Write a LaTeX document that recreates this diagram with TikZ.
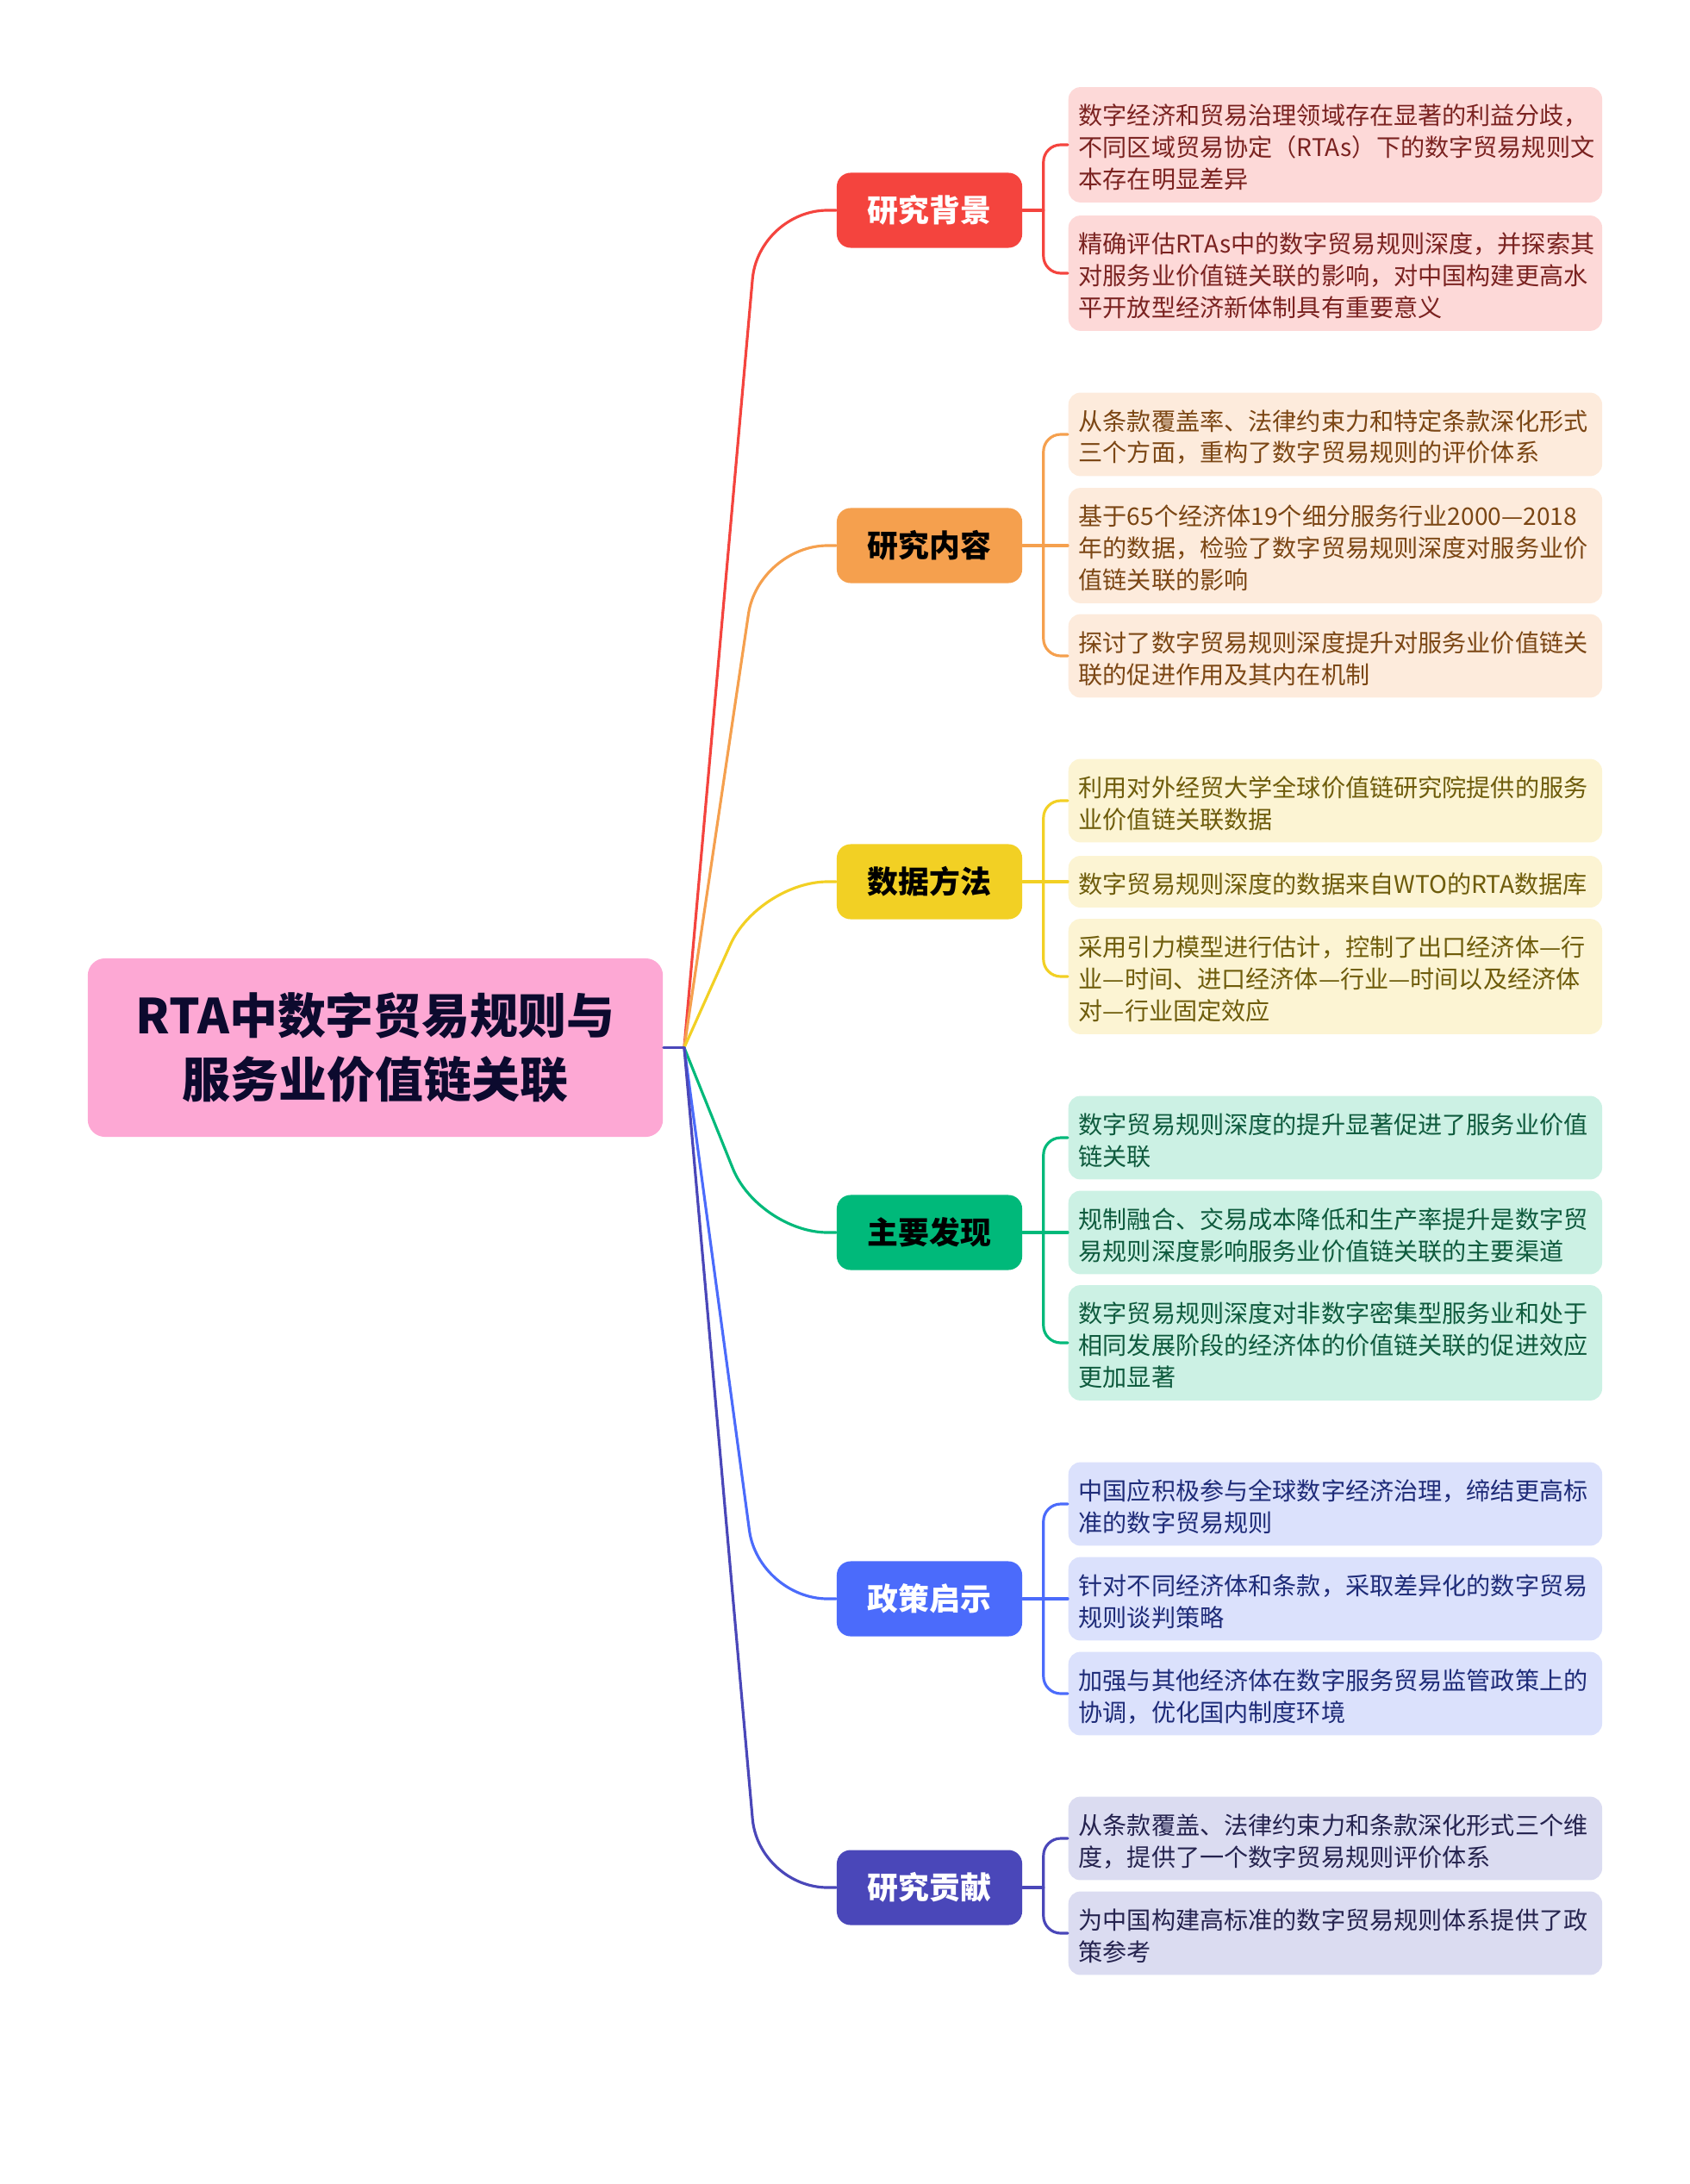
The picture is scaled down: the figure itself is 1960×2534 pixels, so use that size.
\documentclass[tikz,border=0pt]{standalone}
\usepackage{fontspec}
\setmainfont{Noto Sans CJK SC}
\usetikzlibrary{calc}

\definecolor{rootpink}{HTML}{FDA8D4}
\definecolor{roottext}{HTML}{0C0A2E}
\definecolor{redA}{HTML}{F4443E}
\definecolor{redL}{HTML}{FDD9D8}
\definecolor{redT}{HTML}{7A2220}
\definecolor{orgA}{HTML}{F5A04E}
\definecolor{orgL}{HTML}{FDEBDC}
\definecolor{orgT}{HTML}{7B4614}
\definecolor{yelA}{HTML}{F2D024}
\definecolor{yelL}{HTML}{FCF4D3}
\definecolor{yelT}{HTML}{6E5C0B}
\definecolor{grnA}{HTML}{00B97A}
\definecolor{grnL}{HTML}{CCF1E4}
\definecolor{grnT}{HTML}{0E5A3D}
\definecolor{bluA}{HTML}{4B6BFB}
\definecolor{bluL}{HTML}{DBE1FC}
\definecolor{bluT}{HTML}{1E2B78}
\definecolor{indA}{HTML}{4A47B9}
\definecolor{indL}{HTML}{DBDCF1}
\definecolor{indT}{HTML}{25234F}

\newcommand\lfstrut{\rule[-1.4pt]{0pt}{10.5pt}}

\begin{document}
\begin{tikzpicture}[x=0.01cm, y=-0.01cm, line cap=round, line join=round,
    link/.style={line width=0.9pt},
    topic/.style={fill=rootpink, text=roottext, rounded corners=0.2cm,
      minimum width=6.67cm, minimum height=2.07cm, align=center,
      font=\fontsize{15.9}{21}\selectfont\bfseries},
    branch/.style={fill=#1, rounded corners=0.16cm, minimum width=2.15cm,
      minimum height=0.87cm, font=\fontsize{10.2}{12}\selectfont\bfseries},
    leaf/.style={fill=#1, rounded corners=0.14cm, anchor=west,
      text width=5.95cm, inner xsep=0.12cm, inner ysep=0.115cm, align=left,
      font=\fontsize{8}{10.5}\selectfont,
      execute at begin node=\lfstrut, execute at end node=\lfstrut}]
  \useasboundingbox (0,0) rectangle (1960,2534);

  \node[topic] (rt) at (435.5,1215.5) {RTA中数字贸易规则与\\服务业价值链关联};
  \coordinate (jn) at ($(rt.east)+(24,0)$);

  % main topics
  \node[branch=redA, text=white] (bg) at (1078.5,244) {研究背景};
  \node[branch=orgA] (nr) at (1078.5,633) {研究内容};
  \node[branch=yelA] (ff) at (1078.5,1023) {数据方法};
  \node[branch=grnA] (fx) at (1078.5,1430) {主要发现};
  \node[branch=bluA, text=white] (zc) at (1078.5,1855) {政策启示};
  \node[branch=indA, text=white] (gx) at (1078.5,2190) {研究贡献};

  % details
  \node[leaf=redL, text=redT] (bg1) at (1239,168) {数字经济和贸易治理领域存在显著的利益分歧，\\不同区域贸易协定（RTAs）下的数字贸易规则文\\本存在明显差异};
  \node[leaf=redL, text=redT] (bg2) at (1239,317) {精确评估RTAs中的数字贸易规则深度，并探索其\\对服务业价值链关联的影响，对中国构建更高水\\平开放型经济新体制具有重要意义};

  \node[leaf=orgL, text=orgT] (nr1) at (1239,504) {从条款覆盖率、法律约束力和特定条款深化形式\\三个方面，重构了数字贸易规则的评价体系};
  \node[leaf=orgL, text=orgT] (nr2) at (1239,633) {基于65个经济体19个细分服务行业2000—2018\\年的数据，检验了数字贸易规则深度对服务业价\\值链关联的影响};
  \node[leaf=orgL, text=orgT] (nr3) at (1239,761) {探讨了数字贸易规则深度提升对服务业价值链关\\联的促进作用及其内在机制};

  \node[leaf=yelL, text=yelT] (ff1) at (1239,929) {利用对外经贸大学全球价值链研究院提供的服务\\业价值链关联数据};
  \node[leaf=yelL, text=yelT] (ff2) at (1239,1023) {数字贸易规则深度的数据来自WTO的RTA数据库};
  \node[leaf=yelL, text=yelT] (ff3) at (1239,1133) {采用引力模型进行估计，控制了出口经济体—行\\业—时间、进口经济体—行业—时间以及经济体\\对—行业固定效应};

  \node[leaf=grnL, text=grnT] (fx1) at (1239,1320) {数字贸易规则深度的提升显著促进了服务业价值\\链关联};
  \node[leaf=grnL, text=grnT] (fx2) at (1239,1430) {规制融合、交易成本降低和生产率提升是数字贸\\易规则深度影响服务业价值链关联的主要渠道};
  \node[leaf=grnL, text=grnT] (fx3) at (1239,1558) {数字贸易规则深度对非数字密集型服务业和处于\\相同发展阶段的经济体的价值链关联的促进效应\\更加显著};

  \node[leaf=bluL, text=bluT] (zc1) at (1239,1745) {中国应积极参与全球数字经济治理，缔结更高标\\准的数字贸易规则};
  \node[leaf=bluL, text=bluT] (zc2) at (1239,1855) {针对不同经济体和条款，采取差异化的数字贸易\\规则谈判策略};
  \node[leaf=bluL, text=bluT] (zc3) at (1239,1965) {加强与其他经济体在数字服务贸易监管政策上的\\协调，优化国内制度环境};

  \node[leaf=indL, text=indT] (gx1) at (1239,2133) {从条款覆盖、法律约束力和条款深化形式三个维\\度，提供了一个数字贸易规则评价体系};
  \node[leaf=indL, text=indT] (gx2) at (1239,2243) {为中国构建高标准的数字贸易规则体系提供了政\\策参考};

  % root to main topics
  \draw[link, redA, rounded corners=0.8cm] (jn) -- ($(bg.west)+(-90,0)$) -- (bg.west);
  \draw[link, orgA, rounded corners=0.8cm] (jn) -- ($(nr.west)+(-90,0)$) -- (nr.west);
  \draw[link, yelA, rounded corners=0.8cm] (jn) -- ($(ff.west)+(-90,0)$) -- (ff.west);
  \draw[link, grnA, rounded corners=0.8cm] (jn) -- ($(fx.west)+(-90,0)$) -- (fx.west);
  \draw[link, bluA, rounded corners=0.8cm] (jn) -- ($(zc.west)+(-90,0)$) -- (zc.west);
  \draw[link, indA, rounded corners=0.8cm] (jn) -- ($(gx.west)+(-90,0)$) -- (gx.west);
  \draw[link, indA] (rt.east) -- (jn);

  % brackets
  \coordinate (bgk) at ($(bg.east)+(24,0)$);
  \draw[link, redA] (bg.east) -- (bgk);
  \draw[link, redA, rounded corners=0.2cm] (bg1.west) -| (bgk) |- (bg2.west);

  \coordinate (nrk) at ($(nr.east)+(24,0)$);
  \draw[link, orgA] (nr.east) -- (nrk);
  \draw[link, orgA, rounded corners=0.2cm] (nr1.west) -| (nrk) |- (nr3.west);
  \draw[link, orgA] (nrk |- nr2.west) -- (nr2.west);

  \coordinate (ffk) at ($(ff.east)+(24,0)$);
  \draw[link, yelA] (ff.east) -- (ffk);
  \draw[link, yelA, rounded corners=0.2cm] (ff1.west) -| (ffk) |- (ff3.west);
  \draw[link, yelA] (ffk |- ff2.west) -- (ff2.west);

  \coordinate (fxk) at ($(fx.east)+(24,0)$);
  \draw[link, grnA] (fx.east) -- (fxk);
  \draw[link, grnA, rounded corners=0.2cm] (fx1.west) -| (fxk) |- (fx3.west);
  \draw[link, grnA] (fxk |- fx2.west) -- (fx2.west);

  \coordinate (zck) at ($(zc.east)+(24,0)$);
  \draw[link, bluA] (zc.east) -- (zck);
  \draw[link, bluA, rounded corners=0.2cm] (zc1.west) -| (zck) |- (zc3.west);
  \draw[link, bluA] (zck |- zc2.west) -- (zc2.west);

  \coordinate (gxk) at ($(gx.east)+(24,0)$);
  \draw[link, indA] (gx.east) -- (gxk);
  \draw[link, indA, rounded corners=0.2cm] (gx1.west) -| (gxk) |- (gx2.west);
\end{tikzpicture}
\end{document}
